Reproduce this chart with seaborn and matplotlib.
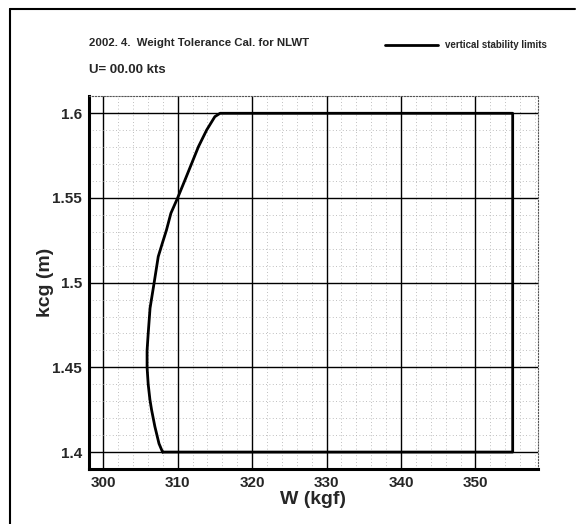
import numpy as np
import matplotlib
matplotlib.use("Agg")
import matplotlib.pyplot as plt
import seaborn as sns
from matplotlib import font_manager
from matplotlib.ticker import MultipleLocator
from matplotlib.lines import Line2D

# %% DATA: vertical stability limit boundary (W in kgf, kcg in m)
w_kgf = [307.98, 307.5, 306.95, 306.5, 306.28, 306.05, 305.9, 305.9, 306.05,
         306.3, 306.85, 307.4, 308.0, 308.5, 309.1, 310.0, 311.0, 311.9,
         312.8, 313.9, 315.0, 315.7, 355.0, 355.0, 307.98]
kcg_m = [1.400, 1.405, 1.415, 1.425, 1.431, 1.440, 1.450, 1.460, 1.470,
         1.485, 1.500, 1.5154, 1.524, 1.531, 1.541, 1.550, 1.5607, 1.5705,
         1.5803, 1.5901, 1.598, 1.600, 1.600, 1.400, 1.400]
series_label = "vertical stability limits"
title_text = "2002. 4.  Weight Tolerance Cal. for NLWT"
subtitle_text = "U= 00.00 kts"
x_ticks = [300, 310, 320, 330, 340, 350]
y_ticks = [1.4, 1.45, 1.5, 1.55, 1.6]

# %% STYLE
sns.set_style("white")
plt.rcParams["font.family"] = ["Liberation Sans", "DejaVu Sans"]
plt.rcParams["font.weight"] = "bold"

# narrow font for the header title if it is available
installed = {f.name for f in font_manager.fontManager.ttflist}
if "Liberation Sans Narrow" in installed:
    title_font, title_size = ["Liberation Sans Narrow", "Liberation Sans"], 10
else:
    title_font, title_size = ["Liberation Sans", "DejaVu Sans"], 8.2

fig = plt.figure(figsize=(5.77, 5.24), dpi=100)
ax = fig.add_axes([89 / 577, 1 - 469 / 524, (538 - 89) / 577, (469 - 96) / 524])

sns.lineplot(x=w_kgf, y=kcg_m, sort=False, estimator=None, color="black",
             linewidth=2.0, label=series_label, ax=ax, legend=False)

ax.set_xlim(298.1, 358.4)
ax.set_ylim(1.390, 1.6102)
ax.set_xticks(x_ticks)
ax.set_yticks(y_ticks)
ax.set_yticklabels(["1.4", "1.45", "1.5", "1.55", "1.6"])
ax.xaxis.set_minor_locator(MultipleLocator(2))
ax.yaxis.set_minor_locator(MultipleLocator(0.01))

# grids: solid major, faint dotted minor
ax.grid(which="major", color="black", linewidth=1.0, linestyle="-")
ax.grid(which="minor", color="#aaaaaa", linewidth=0.6, linestyle=(0, (1, 3)))
ax.set_axisbelow(True)

# spines
for side in ["left", "bottom"]:
    ax.spines[side].set_linewidth(2.2)
    ax.spines[side].set_color("black")
for side in ["top", "right"]:
    ax.spines[side].set_linewidth(0.8)
    ax.spines[side].set_linestyle(":")
    ax.spines[side].set_color("#555555")

ax.tick_params(which="both", direction="in", top=False, right=False,
               color="black", width=1.2)
ax.tick_params(which="major", length=8, labelsize=11, pad=5)
ax.tick_params(which="minor", length=6)
for lab in ax.get_xticklabels() + ax.get_yticklabels():
    lab.set_fontweight("bold")

ax.set_xlabel("W (kgf)", fontsize=14, fontweight="bold", labelpad=1)
ax.set_ylabel("kcg (m)", fontsize=14, fontweight="bold", labelpad=-1)

# header texts
fig.text(89 / 577, 1 - 43 / 524, title_text, fontsize=title_size,
         fontweight="bold", family=title_font, va="center", ha="left")
fig.text(89 / 577, 1 - 70 / 524, subtitle_text, fontsize=9.5, fontweight="bold",
         va="center", ha="left")

# legend at top right
handle = Line2D([], [], color="black", linewidth=2.0)
fig.legend([handle], [series_label], loc="center left",
           bbox_to_anchor=(385 / 577, 1 - 45 / 524), frameon=False,
           handlelength=5.5, handletextpad=0.7, borderpad=0,
           borderaxespad=0, prop={"weight": "bold", "size": 7})

# outer frame (left and top edges)
fig.add_artist(Line2D([10 / 577, 10 / 577], [0, 1 - 9 / 524],
                      transform=fig.transFigure, color="black", linewidth=1.5))
fig.add_artist(Line2D([10 / 577, 575 / 577], [1 - 9 / 524, 1 - 9 / 524],
                      transform=fig.transFigure, color="black", linewidth=1.5))

fig.savefig("out.png", dpi=100, facecolor="white")
